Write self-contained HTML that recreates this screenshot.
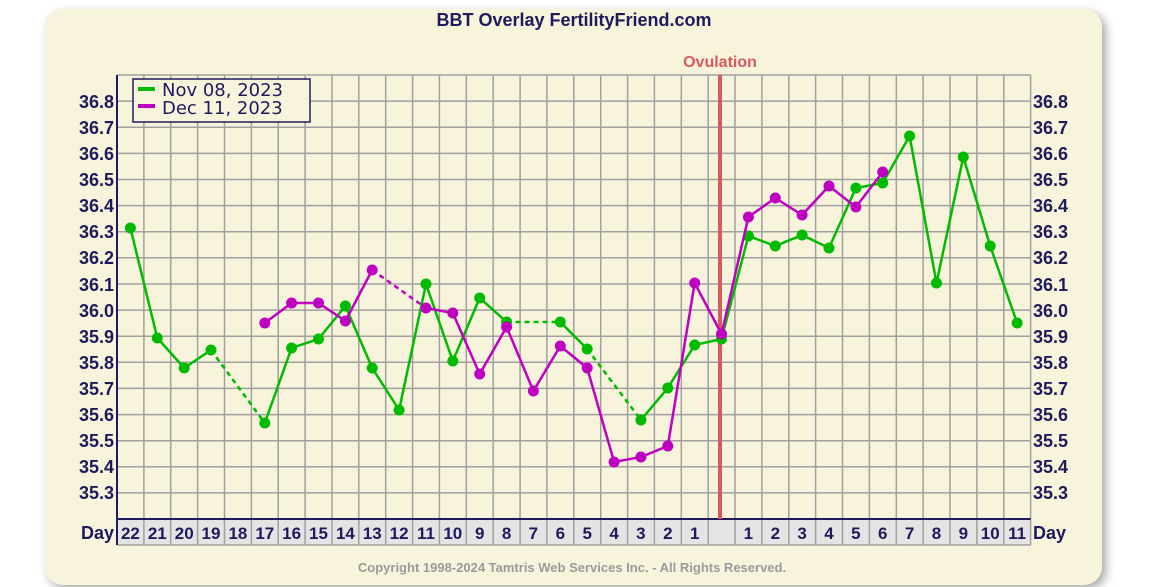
<!DOCTYPE html>
<html><head><meta charset="utf-8"><style>
html,body{margin:0;padding:0;background:#fff;width:1170px;height:587px;overflow:hidden}
.card{position:absolute;left:45px;top:9px;width:1057px;height:576px;background:#f8f4dc;border-radius:18px;box-shadow:4px 4px 10px rgba(0,0,0,0.35)}
svg{position:absolute;left:0;top:0}
</style></head><body>
<div class="card"></div>
<svg width="1170" height="587" viewBox="0 0 1170 587" xmlns="http://www.w3.org/2000/svg" font-family="'Liberation Sans',sans-serif">
<text x="574" y="26" text-anchor="middle" font-size="18" font-weight="bold" fill="#1f1a5e">BBT Overlay FertilityFriend.com</text>
<text x="720" y="67" text-anchor="middle" font-size="16" font-weight="bold" fill="#d95a5e">Ovulation</text>
<rect x="117" y="519" width="913.6" height="26" fill="#e4e4e4"/>
<g stroke="#a0a0a0" stroke-width="1.5">
<path d="M117 75V545M143.9 75V545M170.7 75V545M197.6 75V545M224.5 75V545M251.4 75V545M278.2 75V545M305.1 75V545M332 75V545M358.8 75V545M385.7 75V545M412.6 75V545M439.4 75V545M466.3 75V545M493.2 75V545M520.1 75V545M546.9 75V545M573.8 75V545M600.7 75V545M627.6 75V545M654.4 75V545M681.3 75V545M708.2 75V545M735 75V545M761.9 75V545M788.8 75V545M815.6 75V545M842.5 75V545M869.4 75V545M896.3 75V545M923.1 75V545M950 75V545M976.9 75V545M1003.8 75V545M1030.6 75V545"/>
<path d="M117 75H1030.6M117 101.1H1030.6M117 127.2H1030.6M117 153.4H1030.6M117 179.5H1030.6M117 205.6H1030.6M117 231.7H1030.6M117 257.8H1030.6M117 284H1030.6M117 310.1H1030.6M117 336.2H1030.6M117 362.3H1030.6M117 388.4H1030.6M117 414.6H1030.6M117 440.7H1030.6M117 466.8H1030.6M117 492.9H1030.6M117 545H1030.6"/>
</g>
<path d="M117 519H1030.6" stroke="#1f1a5e" stroke-width="2"/>
<path d="M117 75V545" stroke="#1f1a5e" stroke-width="2"/>
<line x1="720" y1="75" x2="720" y2="519" stroke="#d95a5e" stroke-width="4"/>
<g font-size="18" font-weight="bold" fill="#1f1a5e">
<g text-anchor="end">
<text x="114" y="108">36.8</text><text x="114" y="134">36.7</text><text x="114" y="160">36.6</text><text x="114" y="186">36.5</text><text x="114" y="212">36.4</text><text x="114" y="238">36.3</text><text x="114" y="264">36.2</text><text x="114" y="291">36.1</text><text x="114" y="317">36.0</text><text x="114" y="343">35.9</text><text x="114" y="369">35.8</text><text x="114" y="395">35.7</text><text x="114" y="421">35.6</text><text x="114" y="447">35.5</text><text x="114" y="473">35.4</text><text x="114" y="499">35.3</text>
<text x="114" y="539">Day</text>
</g>
<g text-anchor="start">
<text x="1033" y="108">36.8</text><text x="1033" y="134">36.7</text><text x="1033" y="160">36.6</text><text x="1033" y="186">36.5</text><text x="1033" y="212">36.4</text><text x="1033" y="238">36.3</text><text x="1033" y="264">36.2</text><text x="1033" y="291">36.1</text><text x="1033" y="317">36.0</text><text x="1033" y="343">35.9</text><text x="1033" y="369">35.8</text><text x="1033" y="395">35.7</text><text x="1033" y="421">35.6</text><text x="1033" y="447">35.5</text><text x="1033" y="473">35.4</text><text x="1033" y="499">35.3</text>
<text x="1033" y="539">Day</text>
</g>
<g text-anchor="middle" font-size="17">
<text x="130.4" y="539">22</text><text x="157.3" y="539">21</text><text x="184.2" y="539">20</text><text x="211" y="539">19</text><text x="237.9" y="539">18</text><text x="264.8" y="539">17</text><text x="291.6" y="539">16</text><text x="318.5" y="539">15</text><text x="345.4" y="539">14</text><text x="372.2" y="539">13</text><text x="399.1" y="539">12</text><text x="426" y="539">11</text><text x="452.8" y="539">10</text><text x="479.7" y="539">9</text><text x="506.6" y="539">8</text><text x="533.4" y="539">7</text><text x="560.3" y="539">6</text><text x="587.2" y="539">5</text><text x="614.1" y="539">4</text><text x="640.9" y="539">3</text><text x="667.8" y="539">2</text><text x="694.7" y="539">1</text>
<text x="748.4" y="539">1</text><text x="775.3" y="539">2</text><text x="802.1" y="539">3</text><text x="829" y="539">4</text><text x="855.9" y="539">5</text><text x="882.7" y="539">6</text><text x="909.6" y="539">7</text><text x="936.5" y="539">8</text><text x="963.3" y="539">9</text><text x="990.2" y="539">10</text><text x="1017.1" y="539">11</text>
</g>
</g>
<g stroke="#00bb00" stroke-width="2.5" fill="none">
<polyline points="130.4,228 157.3,338 184.2,368 211,350"/>
<polyline points="264.8,423 291.6,348 318.5,339 345.4,306 372.2,368 399.1,410 426,284 452.8,361 479.7,298 506.6,322"/>
<polyline points="560.3,322 587.2,349"/>
<polyline points="640.9,420 667.8,388 694.7,345 721.5,339 748.4,236 775.3,246 802.1,235 829,248 855.9,188 882.7,183 909.6,136 936.5,283 963.3,157 990.2,246 1017.1,323"/>
<g stroke-dasharray="5,4"><line x1="211" y1="350" x2="264.8" y2="423"/><line x1="506.6" y1="322" x2="560.3" y2="322"/><line x1="587.2" y1="349" x2="640.9" y2="420"/></g>
</g>
<g fill="#00bb00">
<circle cx="130.4" cy="228" r="5.5"/><circle cx="157.3" cy="338" r="5.5"/><circle cx="184.2" cy="368" r="5.5"/><circle cx="211" cy="350" r="5.5"/><circle cx="264.8" cy="423" r="5.5"/><circle cx="291.6" cy="348" r="5.5"/><circle cx="318.5" cy="339" r="5.5"/><circle cx="345.4" cy="306" r="5.5"/><circle cx="372.2" cy="368" r="5.5"/><circle cx="399.1" cy="410" r="5.5"/><circle cx="426" cy="284" r="5.5"/><circle cx="452.8" cy="361" r="5.5"/><circle cx="479.7" cy="298" r="5.5"/><circle cx="506.6" cy="322" r="5.5"/><circle cx="560.3" cy="322" r="5.5"/><circle cx="587.2" cy="349" r="5.5"/><circle cx="640.9" cy="420" r="5.5"/><circle cx="667.8" cy="388" r="5.5"/><circle cx="694.7" cy="345" r="5.5"/><circle cx="721.5" cy="339" r="5.5"/><circle cx="748.4" cy="236" r="5.5"/><circle cx="775.3" cy="246" r="5.5"/><circle cx="802.1" cy="235" r="5.5"/><circle cx="829" cy="248" r="5.5"/><circle cx="855.9" cy="188" r="5.5"/><circle cx="882.7" cy="183" r="5.5"/><circle cx="909.6" cy="136" r="5.5"/><circle cx="936.5" cy="283" r="5.5"/><circle cx="963.3" cy="157" r="5.5"/><circle cx="990.2" cy="246" r="5.5"/><circle cx="1017.1" cy="323" r="5.5"/>
</g>
<g stroke="#c000c0" stroke-width="2.5" fill="none">
<polyline points="264.8,323 291.6,303 318.5,303 345.4,321 372.2,270"/>
<polyline points="426,308 452.8,313 479.7,374 506.6,327 533.4,391 560.3,346 587.2,368 614.1,462 640.9,457 667.8,446 694.7,283 721.5,334 748.4,217 775.3,198 802.1,215 829,186 855.9,207 882.7,172"/>
<line x1="372.2" y1="270" x2="426" y2="308" stroke-dasharray="5,4"/>
</g>
<g fill="#c000c0">
<circle cx="264.8" cy="323" r="5.5"/><circle cx="291.6" cy="303" r="5.5"/><circle cx="318.5" cy="303" r="5.5"/><circle cx="345.4" cy="321" r="5.5"/><circle cx="372.2" cy="270" r="5.5"/><circle cx="426" cy="308" r="5.5"/><circle cx="452.8" cy="313" r="5.5"/><circle cx="479.7" cy="374" r="5.5"/><circle cx="506.6" cy="327" r="5.5"/><circle cx="533.4" cy="391" r="5.5"/><circle cx="560.3" cy="346" r="5.5"/><circle cx="587.2" cy="368" r="5.5"/><circle cx="614.1" cy="462" r="5.5"/><circle cx="640.9" cy="457" r="5.5"/><circle cx="667.8" cy="446" r="5.5"/><circle cx="694.7" cy="283" r="5.5"/><circle cx="721.5" cy="334" r="5.5"/><circle cx="748.4" cy="217" r="5.5"/><circle cx="775.3" cy="198" r="5.5"/><circle cx="802.1" cy="215" r="5.5"/><circle cx="829" cy="186" r="5.5"/><circle cx="855.9" cy="207" r="5.5"/><circle cx="882.7" cy="172" r="5.5"/>
</g>
<rect x="133" y="79" width="177" height="43" fill="#f8f4dc" stroke="#1f1a5e" stroke-width="1.5"/>
<rect x="138" y="87" width="17" height="4" fill="#00bb00"/>
<rect x="138" y="104" width="17" height="4" fill="#c000c0"/>
<g font-family="'DejaVu Sans',sans-serif" font-size="18" fill="#1f1a5e">
<text x="162" y="96">Nov 08, 2023</text>
<text x="162" y="114">Dec 11, 2023</text>
</g>
<text x="572" y="572" text-anchor="middle" font-size="13" font-weight="bold" fill="#9a9a9a">Copyright 1998-2024 Tamtris Web Services Inc. - All Rights Reserved.</text>
</svg>
</body></html>
